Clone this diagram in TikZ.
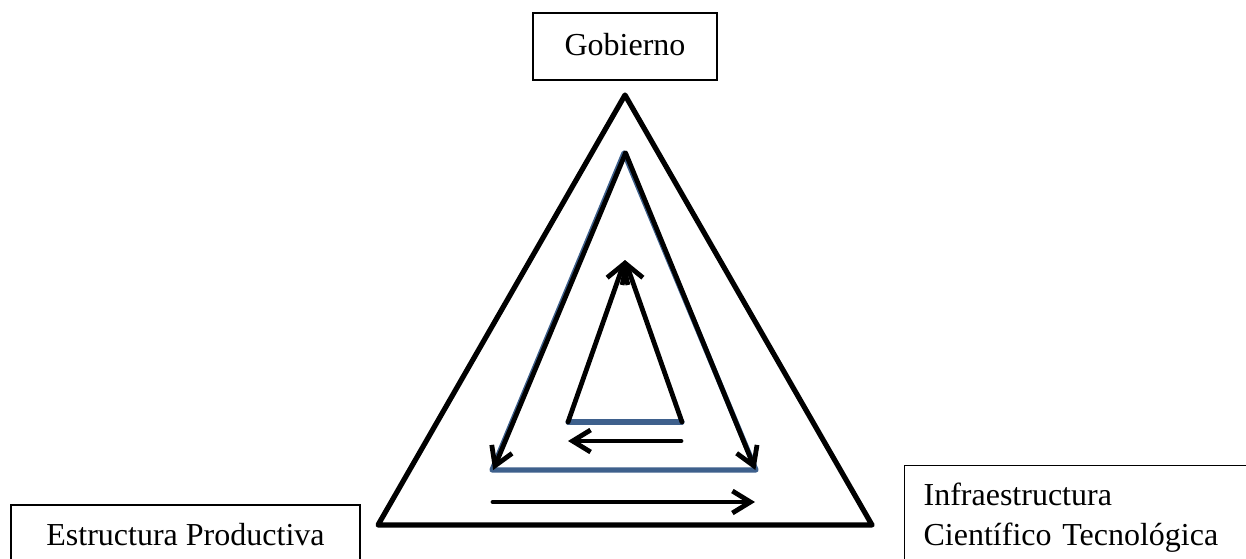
\documentclass[tikz,border=0pt]{standalone}
\usepackage{fontspec}
\setmainfont{Liberation Serif}
\usetikzlibrary{arrows.meta}
\definecolor{steelblue}{RGB}{62,96,140}
\tikzset{
  u/.style={x=0.5pt,y=-0.5pt},
  box/.style={draw=black,line width=0.6pt,inner sep=0pt,font=\fontsize{16}{20}\selectfont},
  thick tri/.style={line width=2.6pt,line join=round,line cap=round},
  bluetri/.style={draw=steelblue,line width=2.6pt,line join=round,line cap=round},
  arr/.style={line width=2.4pt,line cap=round,-{Straight Barb[length=9pt,width=11pt,line width=2.4pt]}},
}
\begin{document}
\begin{tikzpicture}[u]
\useasboundingbox (0,0) rectangle (1246,558);
\clip (0,0) rectangle (1246,558);
% boxes
\node[box,anchor=base,minimum width=184*0.5pt,text height=21pt,text depth=12.5pt] (gob) at (625,55) {Gobierno};
\node[box,anchor=base,minimum width=349*0.5pt,text height=20pt,text depth=30pt] (est) at (185.5,545) {Estructura Productiva};
\node[box,anchor=north west,align=left,text width=200pt,inner xsep=9.5pt,inner ysep=8.5pt,text depth=40pt] (inf) at (904,465) {Infraestructura\\\mbox{Científico Tecnológica}};
% outer triangle
\coordinate (oA) at (625,95);
\coordinate (oL) at (378,525);
\coordinate (oR) at (872,525);
\draw[thick tri] (oA) -- (oL) -- (oR) -- cycle;
% middle triangle
\coordinate (mA) at (624,153);
\coordinate (mL) at (492,470);
\coordinate (mR) at (756,470);
\draw[bluetri] (mA) -- (mL) -- (mR) -- cycle;
\draw[arr] ([xshift=0.8pt]mA) -- ([xshift=0.6pt]mL);
\draw[arr] ([xshift=0.8pt]mA) -- ([xshift=-0.3pt]mR);
% inner triangle
\coordinate (iA) at (624,260);
\coordinate (iL) at (568,422);
\coordinate (iR) at (682,422);
\draw[bluetri] (iL) -- (iR);
\draw[arr] (iL) -- ([xshift=0.5pt]iA);
\draw[arr] (iR) -- ([xshift=0.5pt]iA);
% bottom arrows
\coordinate (a1s) at (681,441);
\coordinate (a1e) at (568,441);
\draw[arr] (a1s) -- (a1e);
\coordinate (a2s) at (493,502);
\coordinate (a2e) at (755,502);
\draw[arr] (a2s) -- (a2e);
\end{tikzpicture}
\end{document}
